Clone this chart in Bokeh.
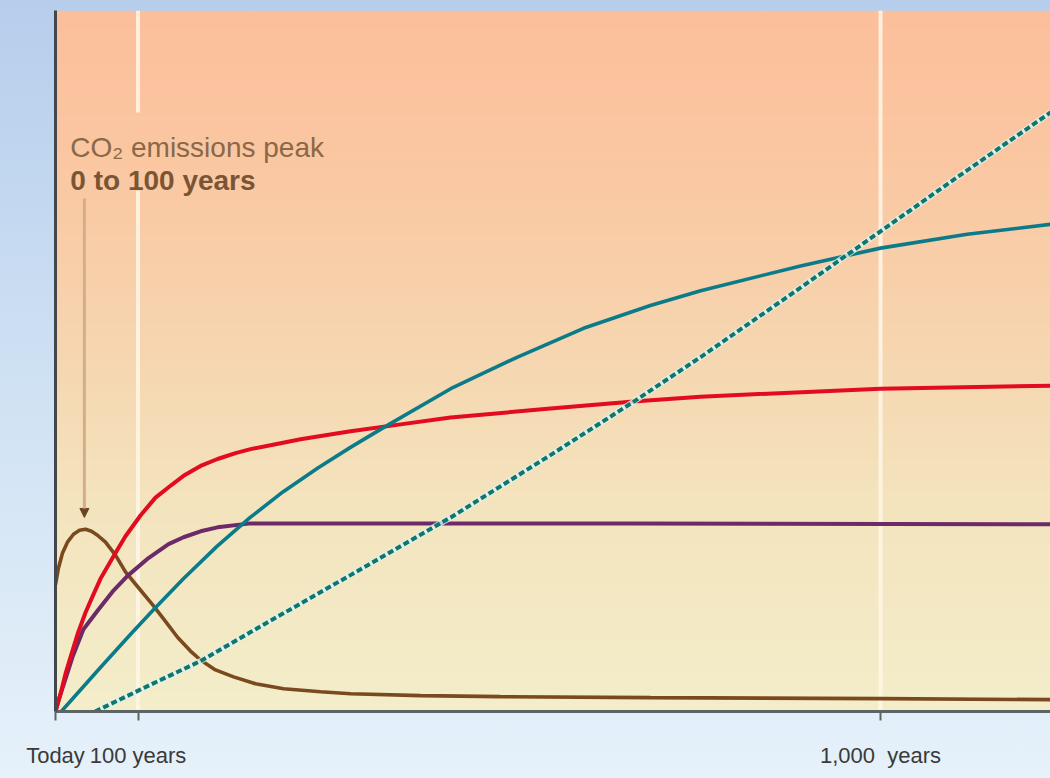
import numpy as np
from bokeh.plotting import figure
from bokeh.models import Label, Arrow, NormalHead, FixedTicker, GlobalInlineStyleSheet
from bokeh.embed import file_html
from bokeh.resources import INLINE

# ---- data (years after today, arbitrary response units) ----
tick_years = [0, 100, 1000]
tick_labels = ["Today", "100 years", "1,000\u00a0 years"]

emis_x = [0, 3.6, 8.5, 14.5, 21.8, 29.1, 36.4, 43.6, 50.9, 60.6, 72.7, 84.8, 100.6, 117.6, 133.3,
          147.9, 163.6, 175.8, 193.9, 215.8, 242.4, 276.4, 321.2, 357.6, 442.4, 539.4, 721.2, 1000, 1206]
emis_y = [128, 145, 160, 171, 179, 183, 184, 182, 178, 171, 158, 141, 125, 108, 91,
          75, 61, 52, 42, 35, 28, 23, 20, 18, 16, 15, 14, 13, 12]

co2_x = [0, 6.1, 12.1, 18.2, 26.7, 36.4, 44.8, 54.5, 69.1, 84.8, 103, 121.2, 139.4, 155.2, 175.8,
         196.4, 218.2, 236.4, 266.7, 297, 357.6, 418.2, 478.8, 600, 700.6, 781.8, 1000, 1206]
co2_y = [0, 18, 38, 55, 78, 100, 116, 134, 155, 177, 198, 216, 228, 238, 248,
         255, 261, 265, 270, 275, 283, 290, 297, 306, 313, 318, 326, 329]

temp_x = [0, 3.6, 12.1, 20.6, 33.9, 52.1, 69.1, 87.3, 112.7, 137, 155.2, 175.8, 196.4, 236.4, 297, 700, 1206]
temp_y = [0, 11, 33, 55, 83, 103, 121, 137, 155, 169, 176, 182, 186, 190, 190, 190, 189]

therm_x = [7, 55, 91, 119, 155, 196, 236, 276, 318, 358, 398, 479, 560, 640, 721, 782, 903, 1000, 1105, 1206]
therm_y = [0, 45, 78, 103, 134, 167, 196, 222, 246, 267, 287, 326, 358, 387, 410, 425, 450, 468, 482, 492]

ice_x = [48, 115, 176, 236, 297, 358, 479, 600, 701, 782, 903, 1000, 1085, 1206]
ice_y = [0, 27, 51, 80, 109, 138, 196, 259, 313, 358, 428, 485, 535, 605]

X_END = 1206
Y_TOP = 708

p = figure(width=1050, height=770, output_backend="svg", toolbar_location=None,
           x_range=(0, X_END), y_range=(0, Y_TOP),
           min_border_left=55, min_border_right=0, min_border_top=10, min_border_bottom=52)
p.border_fill_color = None
p.background_fill_color = None
p.outline_line_color = None
p.xgrid.visible = False
p.ygrid.visible = False

p.stylesheets = [GlobalInlineStyleSheet(css="html,body{background:linear-gradient(180deg,#b6ceec 0%,#d2e3f4 55%,#e6f1fa 100%) !important;min-height:100vh;}")]

# ---- background gradient inside plot area ----
N = 200
t = np.linspace(0, 1, N)  # bottom -> top
stops_t = [0.0, 0.3, 0.5, 0.75, 1.0]
stops_c = np.array([[243, 238, 202], [244, 228, 190], [246, 215, 177], [250, 201, 163], [252, 191, 156]])
rgb = np.stack([np.interp(t, stops_t, stops_c[:, k]) for k in range(3)], axis=1).astype(np.uint32)
img = (255 << 24) | (rgb[:, 2] << 16) | (rgb[:, 1] << 8) | rgb[:, 0]
img = img.reshape(N, 1).astype(np.uint32)
p.image_rgba(image=[img], x=0, y=0, dw=X_END, dh=Y_TOP)

# ---- vertical light guide lines ----
grid_col = "#fff6e6"
p.segment(x0=[tick_years[1], tick_years[1], tick_years[2]], y0=[0, 605, 0],
          x1=[tick_years[1], tick_years[1], tick_years[2]], y1=[526, Y_TOP, Y_TOP],
          line_color=grid_col, line_width=4, line_alpha=0.85)

# ---- curves ----
p.line(emis_x, emis_y, line_color="#7a4a1e", line_width=3.6)
p.line(temp_x, temp_y, line_color="#6c2a68", line_width=4)
p.line(co2_x, co2_y, line_color="#e20b1f", line_width=4)
p.line(therm_x, therm_y, line_color="#0b7b8a", line_width=3.6)
p.line(ice_x, ice_y, line_color="#dff2e8", line_width=6, line_alpha=0.8)
p.line(ice_x, ice_y, line_color="#0e7572", line_width=4, line_dash="6 3")

# ---- annotation ----
p.add_layout(Arrow(x_start=35, y_start=518, x_end=35, y_end=196,
                   line_color="#d2ae8a", line_width=3,
                   end=NormalHead(size=9, fill_color="#6b4423", line_color="#6b4423")))
p.add_layout(Label(x=18, y=570, text="CO\u2082 emissions peak", text_font="Liberation Sans",
                   text_font_size="28px", text_color="#8a6848", text_baseline="alphabetic"))
p.add_layout(Label(x=18, y=536, text="0 to 100 years", text_font="Liberation Sans",
                   text_font_size="28px", text_font_style="bold", text_color="#7a5535",
                   text_baseline="alphabetic"))

# ---- axes ----
xa = p.xaxis[0]
xa.ticker = FixedTicker(ticks=tick_years)
xa.major_label_overrides = {k: v for k, v in zip(tick_years, tick_labels)}
xa.axis_line_color = "#5d6466"
xa.axis_line_width = 3
xa.major_tick_in = 0
xa.major_tick_out = 9
xa.major_tick_line_color = "#5d6466"
xa.major_tick_line_width = 2
xa.minor_tick_line_color = None
xa.major_label_standoff = 22
xa.major_label_text_font = "Liberation Sans"
xa.major_label_text_font_size = "22px"
xa.major_label_text_color = "#3a3a3a"

ya = p.yaxis[0]
ya.ticker = FixedTicker(ticks=[])
ya.axis_line_color = "#41474d"
ya.axis_line_width = 3
ya.major_tick_line_color = None
ya.minor_tick_line_color = None
ya.major_label_text_font_size = "0px"

open("out.html", "w").write(file_html(p, INLINE))
